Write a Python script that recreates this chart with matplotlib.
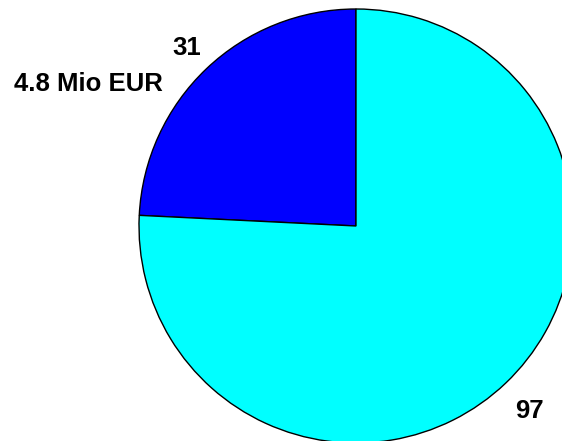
import matplotlib.pyplot as plt

plt.rcParams['font.family'] = ['Liberation Sans', 'DejaVu Sans']

# slice values and their text
values = [31, 97]
colors = ['#0000FF', '#00FFFF']
value_labels = ['31', '97']
amount_label = '4.8 Mio EUR'

W, H = 562, 441
fig = plt.figure(figsize=(W / 100, H / 100), dpi=100)
ax = fig.add_axes([0, 0, 1, 1])

cx, cy, r = 356, H - 226, 217
ax.pie(values, colors=colors, startangle=90, counterclock=True,
       center=(cx, cy), radius=r,
       wedgeprops=dict(edgecolor='black', linewidth=1.0))

ax.set_xlim(0, W)
ax.set_ylim(0, H)
ax.set_aspect('equal')
ax.axis('off')

font = dict(fontsize=18.5, fontweight='bold', ha='center', va='center')
ax.text(187, H - 48, value_labels[0], **font)
ax.text(88, H - 84, amount_label, **font)
ax.text(529, H - 411, value_labels[1], **font)

fig.savefig('out.png', dpi=100)
